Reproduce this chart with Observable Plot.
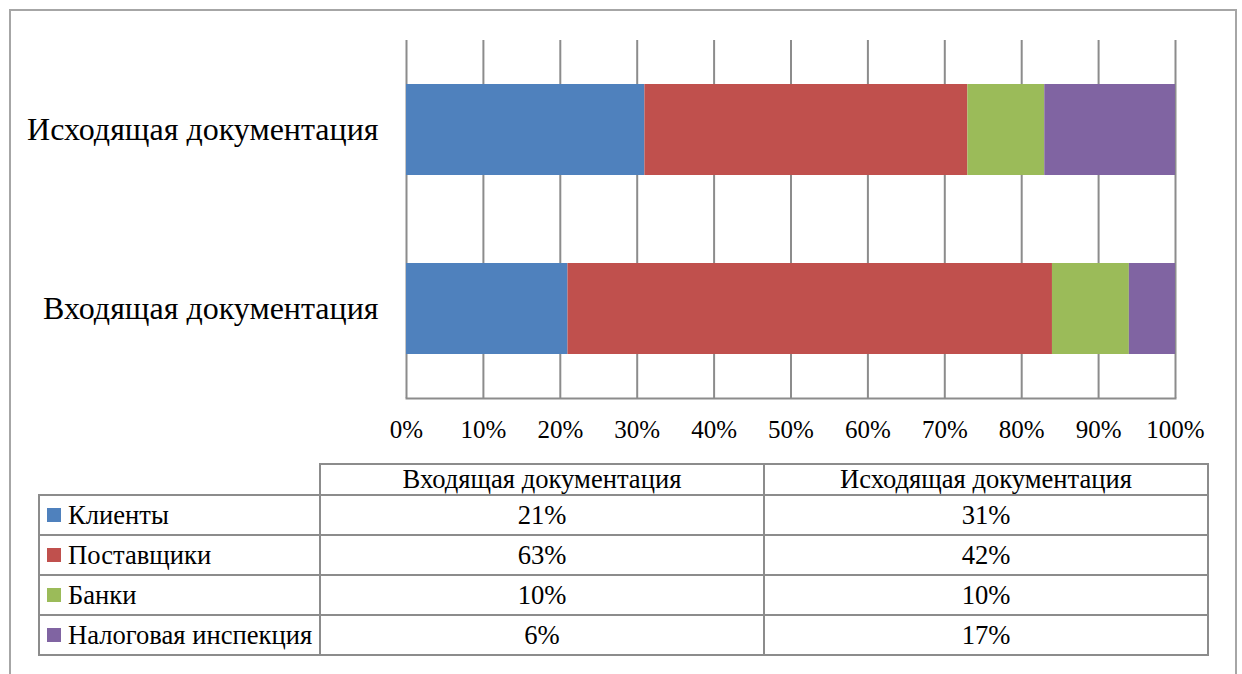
<!DOCTYPE html>
<html>
<head>
<meta charset="utf-8">
<script src="https://cdn.jsdelivr.net/npm/d3@7"></script>
<script src="https://cdn.jsdelivr.net/npm/@observablehq/plot@0.6"></script>
<style>
  html, body { margin: 0; padding: 0; background: #fff; width: 1242px; height: 674px; overflow: hidden; }
  #wrap { position: relative; width: 1242px; height: 674px; font-family: "Liberation Serif", "Times New Roman", serif; }
  #frame { position: absolute; left: 9px; top: 9px; width: 1224px; height: 700px; border: 2px solid #a6a6a6; border-bottom: none; }
  #chart { position: absolute; left: 0; top: 0; }
  #tbl { position: absolute; left: 38px; top: 463px; border-collapse: collapse; table-layout: fixed; font-size: 26.6px; color: #000; font-family: "Liberation Serif", "Times New Roman", serif; }
  #tbl td, #tbl th { border: 2px solid #8c8c8c; padding: 0; font-weight: normal; text-align: center; line-height: 1; overflow: hidden; }
  #tbl th.empty { border-top: none; border-left: none; }
  #tbl td.name { text-align: left; padding-left: 7px; white-space: nowrap; }
  .sw { display: inline-block; width: 14px; height: 14px; margin-right: 7px; vertical-align: 2px; }
</style>
</head>
<body>
<div id="wrap">
  <div id="frame"></div>
  <div id="chart"></div>
  <table id="tbl"></table>
</div>
<script>
const categories = ["Входящая документация", "Исходящая документация"];
const series = ["Клиенты", "Поставщики", "Банки", "Налоговая инспекция"];
const incoming = [21, 63, 10, 6];
const outgoing = [31, 42, 10, 17];
const colors = ["#4F81BD", "#C0504D", "#9BBB59", "#8064A2"];
const xTicks = [0, 10, 20, 30, 40, 50, 60, 70, 80, 90, 100];

const data = [];
series.forEach((s, i) => {
  data.push({series: s, category: categories[0], value: incoming[i]});
  data.push({series: s, category: categories[1], value: outgoing[i]});
});

const fmt = d => d + "%";
const FONT = "'Liberation Serif', 'Times New Roman', serif";

const chart = Plot.plot({
  width: 1242,
  height: 460,
  marginLeft: 406,
  marginRight: 67,
  marginTop: 40,
  marginBottom: 62,
  style: {fontFamily: FONT, fontSize: "25px", color: "#000", background: "transparent", overflow: "visible"},
  x: {domain: [0, 100], label: null},
  y: {domain: [categories[1], categories[0]], paddingInner: 0.49, paddingOuter: 0.245, label: null},
  color: {domain: series, range: colors},
  marks: [
    Plot.ruleX(xTicks, {stroke: "#8c8c8c", strokeWidth: 2}),
    Plot.barX(data, Plot.stackX({x: "value", y: "category", fill: "series"})),
    Plot.frame({anchor: "bottom", stroke: "#8c8c8c", strokeWidth: 2}),
    Plot.axisX({ticks: xTicks, tickFormat: fmt, tickSize: 0, tickPadding: 22, label: null, fontSize: 25, fontFamily: FONT}),
    Plot.axisY({tickSize: 0, tickPadding: 28, label: null, fontSize: 32, fontFamily: FONT})
  ]
});
document.getElementById("chart").appendChild(chart);

// data table (legend + values)
const tbl = document.getElementById("tbl");
const colW = [281, 444, 444];
const cg = document.createElement("colgroup");
colW.forEach(w => { const c = document.createElement("col"); c.style.width = w + "px"; cg.appendChild(c); });
tbl.appendChild(cg);
const head = document.createElement("tr");
head.style.height = "31px";
const e = document.createElement("th"); e.className = "empty"; head.appendChild(e);
categories.forEach(c => { const th = document.createElement("th"); th.textContent = c; head.appendChild(th); });
tbl.appendChild(head);
series.forEach((s, i) => {
  const tr = document.createElement("tr");
  tr.style.height = "40px";
  const n = document.createElement("td"); n.className = "name";
  const sw = document.createElement("span"); sw.className = "sw"; sw.style.background = colors[i];
  n.appendChild(sw); n.appendChild(document.createTextNode(s));
  tr.appendChild(n);
  [incoming[i], outgoing[i]].forEach(v => { const td = document.createElement("td"); td.textContent = fmt(v); tr.appendChild(td); });
  tbl.appendChild(tr);
});
</script>
</body>
</html>
